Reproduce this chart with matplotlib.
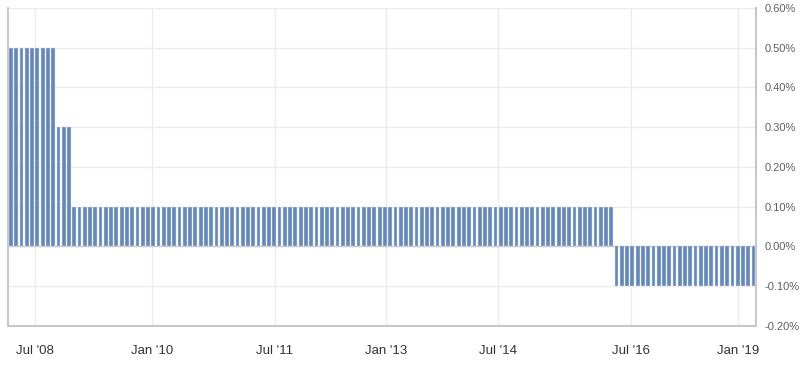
import matplotlib.pyplot as plt

# policy rate (%), one bar per meeting, in order
rate_levels = [0.5, 0.3, 0.1, -0.1]
rate_counts = [9, 3, 103, 27]
rates = []
for lvl, n in zip(rate_levels, rate_counts):
    rates += [lvl] * n

# tick labels and where they fall along the meeting sequence
tick_labels = ["Jul '08", "Jan '10", "Jul '11", "Jan '13", "Jul '14", "Jul '16", "Jan '19"]
tick_pos = [4.55, 26.7, 50.1, 71.3, 92.5, 117.7, 138.0]

y_ticks = [-0.2, -0.1, 0.0, 0.1, 0.2, 0.3, 0.4, 0.5, 0.6]

plt.rcParams['font.family'] = ['Liberation Sans', 'DejaVu Sans']

fig = plt.figure(figsize=(8.01, 3.66), dpi=100)
ax = fig.add_axes([0.01, 0.1093, 0.9338, 0.8689])

x = list(range(len(rates)))
ax.bar(x, rates, width=0.72, color='#6688b6', edgecolor='#dfe6f0', linewidth=0.3, zorder=3)

ax.set_xlim(-0.58, 141.48)
ax.set_ylim(-0.2, 0.6)

ax.set_yticks(y_ticks)
ax.set_yticklabels(['{:.2f}%'.format(v) for v in y_ticks])
ax.yaxis.tick_right()
ax.tick_params(axis='y', length=0, pad=6, labelsize=8, labelcolor='#606060')

ax.set_xticks(tick_pos)
ax.set_xticklabels(tick_labels)
ax.tick_params(axis='x', length=0, pad=13.5, labelsize=9.5, labelcolor='#333333')

ax.grid(True, color='#ececec', linewidth=1, zorder=0)
ax.axhline(0, color='#c8c8c8', linewidth=1, zorder=2)

for s in ['left', 'right', 'bottom']:
    ax.spines[s].set_color('#c8c8c8')
    ax.spines[s].set_linewidth(1.5)
ax.spines['top'].set_visible(False)

fig.savefig('out.png', dpi=100)
